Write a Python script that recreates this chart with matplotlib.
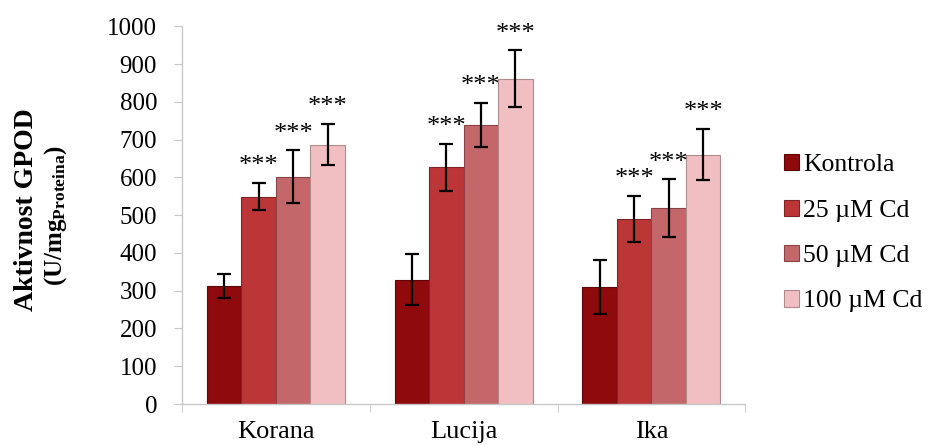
import matplotlib
matplotlib.use("Agg")
import matplotlib.pyplot as plt
import numpy as np

plt.rcParams['font.family'] = ['Liberation Serif', 'DejaVu Serif']
plt.rcParams['mathtext.fontset'] = 'custom'
plt.rcParams['mathtext.rm'] = 'Liberation Serif'
plt.rcParams['mathtext.bf'] = 'Liberation Serif:bold'

categories = ["Korana", "Lucija", "Ika"]
series = ["Kontrola", "25 µM Cd", "50 µM Cd", "100 µM Cd"]
kontrola = [313, 329, 310]
cd25 = [549, 627, 491]
cd50 = [602, 739, 518]
cd100 = [687, 861, 660]
err_kontrola = [32, 67, 72]
err_cd25 = [36, 62, 61]
err_cd50 = [70, 58, 77]
err_cd100 = [55, 75, 68]
stars = ["", "***", "***", "***"]
yticks = [0, 100, 200, 300, 400, 500, 600, 700, 800, 900, 1000]

values = [kontrola, cd25, cd50, cd100]
errors = [err_kontrola, err_cd25, err_cd50, err_cd100]
colors = ["#8E0A0C", "#BC3638", "#C4676A", "#F1BFC1"]
edges = ["#5E0607", "#7E2426", "#8A4446", "#B08A8C"]

fig = plt.figure(figsize=(9.31, 4.45), dpi=100)
ax = fig.add_axes([0.1955, 0.092, 0.605, 0.849])

x = np.arange(len(categories))
w = 0.184
for i, (vals, errs) in enumerate(zip(values, errors)):
    pos = x + (i - 1.5) * w
    ax.bar(pos, vals, width=w, color=colors[i], edgecolor=edges[i], linewidth=0.8,
           label=series[i], zorder=2)
    ax.errorbar(pos, vals, yerr=errs, fmt='none', ecolor='black', elinewidth=1.6,
                capsize=5, capthick=1.6, zorder=3)
    if stars[i]:
        for p, v, e in zip(pos, vals, errs):
            ax.annotate(stars[i], (p, v + e), xytext=(0, 4), textcoords='offset points',
                        ha='center', va='bottom', fontsize=19)

ax.set_xlim(-0.5, 2.5)
ax.set_ylim(0, 1000)
ax.set_yticks(yticks)
ax.set_yticklabels([str(t) for t in yticks], fontsize=18)
ax.set_xticks(x)
ax.set_xticklabels(categories, fontsize=19)
ax.set_xticks([-0.5, 0.5, 1.5, 2.5], minor=True)
ax.tick_params(axis='x', which='major', length=0, pad=12)
ax.tick_params(axis='x', which='minor', length=6, color='#C8C8C8')
ax.tick_params(axis='y', length=6, color='#C8C8C8', pad=12)
for s in ['top', 'right']:
    ax.spines[s].set_visible(False)
for s in ['left', 'bottom']:
    ax.spines[s].set_color('#C8C8C8')
    ax.spines[s].set_linewidth(1.0)

fig.text(0.028, 0.528, "Aktivnost GPOD", rotation=90, ha='center', va='center',
         fontsize=20, fontweight='bold')
fig.text(0.060, 0.515, r"$\mathbf{(U/mg_{Proteina})}$", rotation=90, ha='center',
         va='center', fontsize=18)

leg = ax.legend(loc='center left', bbox_to_anchor=(1.05, 0.452), frameon=False,
                fontsize=18.5, handlelength=0.6, handleheight=0.6, handletextpad=0.15,
                labelspacing=0.9, borderaxespad=0)

fig.savefig("out.png", dpi=100)
